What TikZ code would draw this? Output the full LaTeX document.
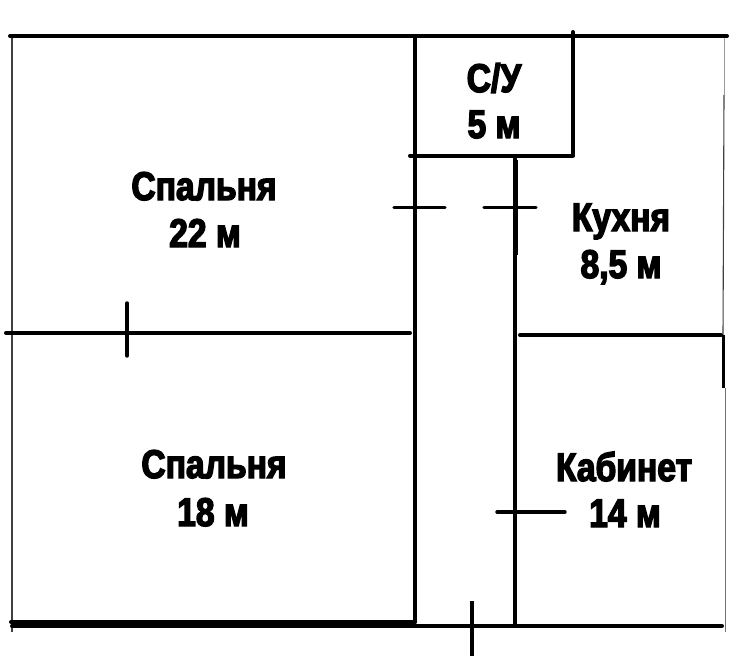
\documentclass[tikz,border=0pt]{standalone}
\usepackage{fontspec}
\newfontfamily\planfont[FakeStretch=0.84,FakeBold=3.5]{Liberation Sans Bold}
\tikzset{
  wall/.style={line width=4pt,black,line cap=round},
  thinwall/.style={line width=1.1pt,black!75},
  room/.style={font=\planfont\fontsize{40}{40}\selectfont,anchor=base,inner sep=0pt,text=black}
}
\begin{document}
\begin{tikzpicture}[x=1pt,y=-1pt]
\useasboundingbox (0,0) rectangle (741,656);
\fill[white] (0,0) rectangle (741,656);
% thin outer walls
\draw[thinwall] (12,36) -- (12,632);
\draw[line width=0.7pt,black!40] (724,36) -- (724,95);
\draw[thinwall] (724,95) -- (723,335);
\draw[line width=0.8pt,black!55] (725,388) -- (725,632);
\draw[line width=3pt,black] (723,335) -- (723,388);
% main walls
\draw[wall] (10,36) -- (727,36);
\draw[wall] (415,36) -- (415,622);
\draw[wall] (573,32) -- (573,155);
\draw[wall] (410,155.5) -- (573,155.5);
\draw[wall,line cap=butt] (515,155) -- (515,625);
\draw[line width=1.2pt,black] (517,160) -- (517,255);
% partitions
\draw[wall] (6,333) -- (410,333);
\draw[wall] (520,335) -- (721,335);
\draw[wall] (11,622) -- (415,622);
\draw[wall] (12,626) -- (722,626);
% door ticks
\draw[wall,line width=3.4pt] (394,207.5) -- (445,207.5);
\draw[wall,line width=3.4pt] (484,207.5) -- (536,207.5);
\draw[wall,line width=3.4pt] (127,303) -- (127,356);
\draw[wall,line width=3.4pt] (497,512) -- (565,512);
\draw[wall,line width=3.4pt,line cap=butt] (472,601) -- (472,656);
% labels
\node[room] (su)  at (494,92)  {С/У};
\node[room] (su2) at (494,138) {5 м};
\node[room] (s1)  at (204,200) {Спальня};
\node[room] (s1a) at (205,247) {22 м};
\node[room] (ku)  at (621,231) {Кухня};
\node[room] (ku2) at (621,278) {8,5 м};
\node[room] (s2)  at (214,478) {Спальня};
\node[room] (s2a) at (213,526) {18 м};
\node[room] (ka)  at (624,481) {Кабинет};
\node[room] (ka2) at (625,527) {14 м};
\end{tikzpicture}
\end{document}
